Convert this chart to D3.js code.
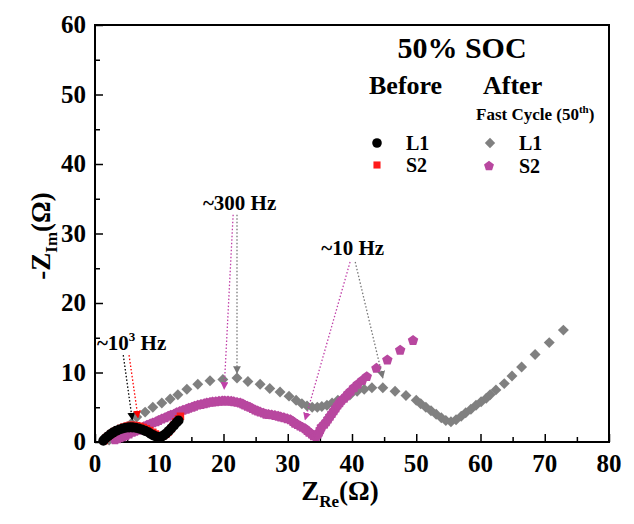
<!DOCTYPE html>
<html><head><meta charset="utf-8">
<script src="https://cdn.jsdelivr.net/npm/d3@7"></script>
<style>
body{margin:0;background:#fff;}
text{font-family:"Liberation Serif","Times New Roman",serif;font-weight:bold;fill:#000;}
</style></head>
<body><svg id="c" width="634" height="524"></svg>
<script>
// ---------- data (Z_re, -Z_im) in ohms ----------
const beforeL1 = [[1.3,0.2],[1.6,0.5],[2.0,0.8],[2.4,1.1],[2.8,1.35],[3.3,1.6],[3.8,1.8],[4.3,1.95],[4.8,2.05],[5.3,2.1],[5.8,2.1],[6.3,2.05],[6.8,1.95],[7.3,1.8],[7.8,1.6],[8.3,1.4],[8.7,1.15],[9.1,0.95],[9.5,0.8],[9.9,0.7],[10.3,0.75],[10.7,0.95],[11.1,1.25],[11.5,1.6],[11.9,2.0],[12.3,2.4],[12.7,2.8],[13.0,3.1]];
const beforeS2 = [[1.4,0.2],[1.7,0.55],[2.1,0.9],[2.5,1.2],[3.0,1.5],[3.5,1.75],[4.0,1.95],[4.5,2.15],[5.0,2.3],[5.5,2.4],[6.0,2.4],[6.5,2.35],[7.0,2.25],[7.5,2.1],[8.0,1.9],[8.5,1.65],[9.0,1.4],[9.4,1.15],[9.8,0.95],[10.2,0.85],[10.6,0.9],[11.0,1.1],[11.4,1.45],[11.8,1.9],[12.2,2.4],[12.6,2.9],[13.0,3.35],[13.3,3.7]];
const afterL1 = [[2.2,0.3],[2.7,0.6],[3.2,0.9],[3.8,1.3],[4.4,1.7],[5.0,2.2],[5.7,2.7],[6.5,3.6],[7.8,4.3],[9.0,5.0],[10.4,5.6],[11.7,6.2],[12.9,6.8],[14.3,7.6],[16.0,8.3],[17.9,8.8],[19.9,9.0],[22.1,9.2],[23.8,8.7],[25.7,8.3],[27.2,7.7],[28.8,7.2],[30.2,6.6],[31.3,6.0],[32.2,5.5],[33.0,5.2],[33.8,5.0],[34.6,5.0],[35.3,5.1],[36.1,5.3],[36.9,5.6],[37.8,6.0],[38.8,6.3],[39.7,6.8],[40.8,7.3],[41.9,7.6],[43.1,7.8],[44.8,7.8],[46.7,7.3],[48.4,6.7],[50.0,6.0],[50.7,5.5],[51.5,5.0],[52.3,4.5],[53.1,4.0],[53.9,3.5],[54.6,3.1],[55.4,2.9],[56.2,3.2],[57.0,3.7],[57.7,4.2],[58.5,4.7],[59.3,5.3],[60.1,5.8],[60.9,6.3],[61.5,6.8],[62.4,7.5],[63.7,8.4],[64.9,9.5],[66.4,10.8],[68.5,12.6],[70.7,14.3],[72.9,16.1]];
const afterS2 = [[3.1,0.3],[3.5,0.45],[3.9,0.6],[4.3,0.75],[4.8,0.9],[5.3,1.15],[5.8,1.4],[6.2,1.55],[6.7,1.7],[7.1,1.95],[7.6,2.2],[8.1,2.4],[8.6,2.6],[9.0,2.75],[9.5,2.9],[9.9,3.1],[10.4,3.3],[10.9,3.5],[11.4,3.7],[11.8,3.85],[12.3,4.0],[12.7,4.2],[13.2,4.4],[13.7,4.55],[14.2,4.7],[14.6,4.85],[15.1,5.0],[15.5,5.15],[16.0,5.3],[16.5,5.4],[17.0,5.5],[17.4,5.6],[17.9,5.7],[18.3,5.75],[18.8,5.8],[19.3,5.85],[19.8,5.9],[20.2,5.9],[20.7,5.9],[21.2,5.85],[21.6,5.8],[22.1,5.7],[22.6,5.6],[23.0,5.45],[23.3,5.3],[23.7,5.15],[24.1,5.0],[24.5,4.8],[24.9,4.6],[25.3,4.45],[25.7,4.3],[26.2,4.15],[26.6,4.0],[27.0,3.95],[27.5,3.9],[28.0,3.8],[28.5,3.7],[28.9,3.6],[29.4,3.5],[29.9,3.35],[30.4,3.2],[30.8,2.95],[31.1,2.7],[31.5,2.5],[31.9,2.3],[32.3,2.1],[32.7,1.9],[33.0,1.65],[33.3,1.4],[33.7,1.15],[34.0,0.9],[34.4,0.8],[34.7,1.1],[34.9,1.4],[35.1,1.8],[35.3,2.2],[35.7,2.55],[36.0,2.9],[36.3,3.3],[36.6,3.7],[36.9,4.1],[37.2,4.5],[37.5,4.9],[37.8,5.3],[38.1,5.65],[38.4,6.0],[38.8,6.3],[39.1,6.6],[39.4,6.95],[39.8,7.3],[40.3,7.8],[40.9,8.3],[41.6,8.85],[42.3,9.4],[43.8,10.6],[45.5,11.8],[47.5,13.2],[49.5,14.6]];

const xTicks = [0,10,20,30,40,50,60,70,80];
const yTicks = [0,10,20,30,40,50,60];

// annotations: [x1,y1,x2,y2,color] in data units
const annoArrows = [
  [4.4,12.5,5.8,3.2,"#000"],[5.3,12.5,6.7,3.5,"#ff0000"],
  [21.5,32.7,20.1,7.6,"#c040a8"],[22.1,32.7,22.1,9.9,"#777"],
  [39.7,25.9,32.7,3.2,"#c040a8"],[40.5,25.9,44.8,9.2,"#777"]
];

// ---------- layout ----------
const svg = d3.select("#c");
const L=95,R=609,T=25,B=442;
const x = d3.scaleLinear().domain([0,80]).range([L,R]);
const y = d3.scaleLinear().domain([0,60]).range([B,T]);

// axes (inward ticks)
const gx = svg.append("g").attr("transform",`translate(0,${B})`)
  .call(d3.axisBottom(x).tickValues(d3.range(0,81,5)).tickSize(-7).tickFormat(""));
gx.selectAll(".tick line").attr("y2",d=>d%10===0?-8:-5);
const gy = svg.append("g").attr("transform",`translate(${L},0)`)
  .call(d3.axisLeft(y).tickValues(d3.range(0,61,5)).tickSize(-7).tickFormat(""));
gy.selectAll(".tick line").attr("x2",d=>d%10===0?8:5);
svg.selectAll(".domain").remove();
svg.selectAll(".tick line").attr("stroke","#000").attr("stroke-width",1.5);
svg.append("rect").attr("x",L).attr("y",T).attr("width",R-L).attr("height",B-T)
  .attr("fill","none").attr("stroke","#000").attr("stroke-width",2);

// tick labels
svg.append("g").selectAll("text").data(xTicks).join("text")
  .attr("x",d=>x(d)).attr("y",B+30).attr("text-anchor","middle").attr("font-size",25).text(d=>d);
svg.append("g").selectAll("text").data(yTicks).join("text")
  .attr("x",L-9).attr("y",d=>y(d)+8).attr("text-anchor","end").attr("font-size",25).text(d=>d);

// axis titles
const xt = svg.append("text").attr("x",340).attr("y",500).attr("text-anchor","middle").attr("font-size",27);
xt.append("tspan").text("Z");
xt.append("tspan").attr("font-size",17).attr("dy",7).text("Re");
xt.append("tspan").attr("dy",-7).text("(Ω)");
const yt = svg.append("text").attr("transform","translate(50,236) rotate(-90)").attr("text-anchor","middle").attr("font-size",27);
yt.append("tspan").text("-Z");
yt.append("tspan").attr("font-size",17).attr("dy",7).text("Im");
yt.append("tspan").attr("dy",-7).text("(Ω)");

// symbols
const pentagon = {draw(ctx,size){const r=Math.sqrt(size/2.3776);for(let i=0;i<5;i++){const a=-Math.PI/2+i*2*Math.PI/5;const px=r*Math.cos(a),py=r*Math.sin(a);i?ctx.lineTo(px,py):ctx.moveTo(px,py);}ctx.closePath();}};
const diamond = {draw(ctx,size){const h=Math.sqrt(size/2);ctx.moveTo(0,-h);ctx.lineTo(h,0);ctx.lineTo(0,h);ctx.lineTo(-h,0);ctx.closePath();}};
const series = [
  {data:afterL1,type:diamond,size:60,color:"#808080"},
  {data:afterS2,type:pentagon,size:72,color:"#b8479f"},
  {data:beforeS2,type:d3.symbolSquare,size:56,color:"#ff1a1a"},
  {data:beforeL1,type:d3.symbolCircle,size:80,color:"#000"}
];
series.forEach(s=>{
  svg.append("g").selectAll("path").data(s.data).join("path")
    .attr("transform",d=>`translate(${x(d[0])},${y(d[1])})`)
    .attr("d",d3.symbol(s.type,s.size)()).attr("fill",s.color);
});

// arrow markers
const defs = svg.append("defs");
const cols = Array.from(new Set(annoArrows.map(a=>a[4])));
cols.forEach((c,i)=>{
  defs.append("marker").attr("id","ah"+i).attr("viewBox","0 0 10 10").attr("refX",9).attr("refY",5)
    .attr("markerWidth",6).attr("markerHeight",6).attr("orient","auto")
    .append("path").attr("d","M0,0L10,5L0,10Z").attr("fill",c);
});
svg.append("g").selectAll("line").data(annoArrows).join("line")
  .attr("x1",d=>x(d[0])).attr("y1",d=>y(d[1])).attr("x2",d=>x(d[2])).attr("y2",d=>y(d[3]))
  .attr("stroke",d=>d[4]).attr("stroke-width",1.3).attr("stroke-dasharray","1.5,2")
  .attr("marker-end",d=>`url(#ah${cols.indexOf(d[4])})`);

// annotation texts
const a1 = svg.append("text").attr("x",x(0.3)).attr("y",y(13.2)).attr("font-size",21);
a1.append("tspan").text("~10");
a1.append("tspan").attr("font-size",13).attr("dy",-9).text("3");
a1.append("tspan").attr("dy",9).text(" Hz");
svg.append("text").attr("x",x(22.5)).attr("y",y(33.4)).attr("text-anchor","middle").attr("font-size",21).text("~300 Hz");
svg.append("text").attr("x",x(40.1)).attr("y",y(26.9)).attr("text-anchor","middle").attr("font-size",21).text("~10 Hz");

// legend
svg.append("text").attr("x",462).attr("y",58).attr("text-anchor","middle").attr("font-size",30).text("50% SOC");
svg.append("text").attr("x",369).attr("y",94).attr("font-size",26).text("Before");
svg.append("text").attr("x",483).attr("y",94).attr("font-size",26).text("After");
const fc = svg.append("text").attr("x",476).attr("y",120).attr("font-size",17);
fc.append("tspan").text("Fast Cycle (50");
fc.append("tspan").attr("font-size",11).attr("dy",-7).text("th");
fc.append("tspan").attr("dy",7).text(")");
const leg = [
  {lx:377,ly:143,tx:406,label:"L1",s:series[3]},
  {lx:377,ly:165,tx:406,label:"S2",s:series[2]},
  {lx:490,ly:143,tx:519,label:"L1",s:series[0]},
  {lx:489,ly:166,tx:519,label:"S2",s:series[1]}
];
leg.forEach(l=>{
  svg.append("path").attr("transform",`translate(${l.lx},${l.ly})`).attr("d",d3.symbol(l.s.type,l.s.size*0.9)()).attr("fill",l.s.color);
  svg.append("text").attr("x",l.tx).attr("y",l.ly+7).attr("font-size",20).text(l.label);
});
</script></body></html>
